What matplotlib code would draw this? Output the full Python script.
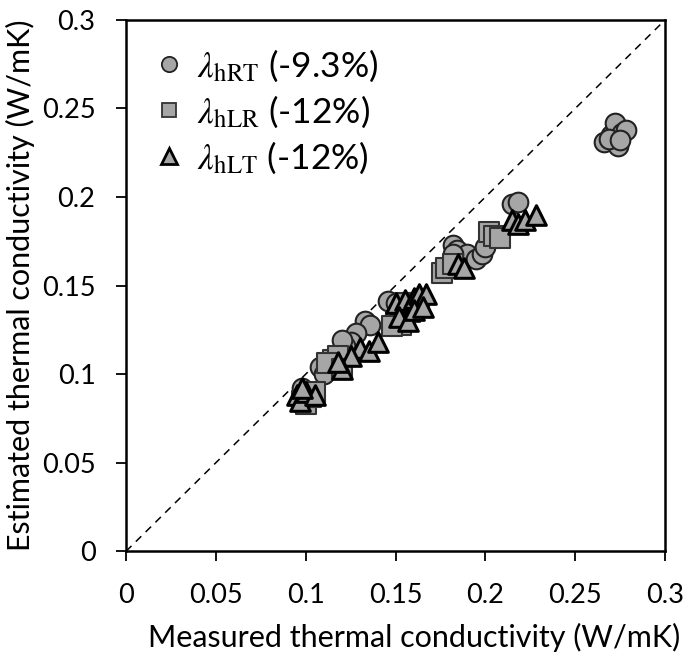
import matplotlib
matplotlib.use("Agg")
import matplotlib.pyplot as plt
from matplotlib.lines import Line2D

plt.rcParams['font.family'] = ['Lato', 'DejaVu Sans']
plt.rcParams['mathtext.fontset'] = 'stix'

# hRT (circles)
rt_x = [0.266, 0.270, 0.272, 0.274, 0.276, 0.278, 0.269, 0.275,
        0.215, 0.218,
        0.182, 0.184, 0.186, 0.190, 0.195, 0.198, 0.200, 0.182,
        0.146, 0.150,
        0.133, 0.136, 0.128, 0.125, 0.122, 0.120,
        0.108, 0.110, 0.098]
rt_y = [0.231, 0.235, 0.242, 0.229, 0.236, 0.238, 0.233, 0.232,
        0.196, 0.197,
        0.173, 0.170, 0.166, 0.168, 0.165, 0.168, 0.172, 0.168,
        0.141, 0.140,
        0.130, 0.128, 0.123, 0.118, 0.116, 0.119,
        0.104, 0.100, 0.092]
# hLR (squares)
lr_x = [0.202, 0.205, 0.208,
        0.176, 0.178, 0.182,
        0.155, 0.158, 0.160, 0.163, 0.150, 0.153, 0.148,
        0.115, 0.118, 0.112, 0.120,
        0.098, 0.100, 0.103, 0.105]
lr_y = [0.180, 0.178, 0.177,
        0.157, 0.160, 0.162,
        0.140, 0.135, 0.138, 0.140, 0.130, 0.128, 0.127,
        0.108, 0.110, 0.106, 0.103,
        0.085, 0.083, 0.087, 0.090]
# hLT (triangles)
lt_x = [0.215, 0.218, 0.222, 0.228,
        0.185, 0.188,
        0.150, 0.155, 0.160, 0.163, 0.167, 0.152, 0.157, 0.160, 0.165,
        0.130, 0.135, 0.140, 0.125, 0.120, 0.118,
        0.095, 0.097, 0.100, 0.105, 0.098]
lt_y = [0.187, 0.185, 0.187, 0.190,
        0.162, 0.160,
        0.140, 0.142, 0.143, 0.145, 0.145, 0.132, 0.130, 0.136, 0.138,
        0.115, 0.113, 0.118, 0.110, 0.103, 0.107,
        0.088, 0.085, 0.090, 0.088, 0.092]

labels = [r'$\lambda_{\mathrm{hRT}}$ (-9.3%)', r'$\lambda_{\mathrm{hLR}}$ (-12%)', r'$\lambda_{\mathrm{hLT}}$ (-12%)']
ticks = [0, 0.05, 0.1, 0.15, 0.2, 0.25, 0.3]
tick_labels = ['0', '0.05', '0.1', '0.15', '0.2', '0.25', '0.3']

fill = '#a6a6a6'
fig = plt.figure(figsize=(6.85, 6.61), dpi=100)
ax = fig.add_axes([0.184, 0.166, 0.787, 0.804])

ax.plot([0, 0.3], [0, 0.3], ls=(0, (5, 4)), color='black', lw=1.1, zorder=1)
ax.scatter(rt_x, rt_y, s=200, marker='o', facecolor=fill, edgecolor='#222222', linewidths=1.5, zorder=2)
ax.scatter(lr_x, lr_y, s=200, marker='s', facecolor=fill, edgecolor='#333333', linewidths=1.5, zorder=3)
ax.scatter(lt_x, lt_y, s=200, marker='^', facecolor=fill, edgecolor='black', linewidths=2.2, zorder=4)

ax.set_xlim(0, 0.3)
ax.set_ylim(0, 0.3)
ax.set_xticks(ticks)
ax.set_xticklabels(tick_labels)
ax.set_yticks(ticks)
ax.set_yticklabels(tick_labels)
ax.tick_params(direction='out', length=7, width=1.3, labelsize=19.5)
ax.tick_params(axis='x', pad=16)
ax.tick_params(axis='y', pad=15)
for s in ax.spines.values():
    s.set_linewidth(1.8)
ax.set_xlabel('Measured thermal conductivity (W/mK)', fontsize=22, labelpad=12)
ax.xaxis.set_label_coords(0.535, -0.135)
ax.set_ylabel('Estimated thermal conductivity (W/mK)', fontsize=22, labelpad=5)

handles = [
    Line2D([], [], ls='none', marker='o', ms=11, mfc=fill, mec='#222222', mew=1.3),
    Line2D([], [], ls='none', marker='s', ms=10, mfc=fill, mec='#333333', mew=1.3),
    Line2D([], [], ls='none', marker='^', ms=11, mfc=fill, mec='black', mew=2),
]
ax.legend(handles, labels, loc='upper left', frameon=False, fontsize=25.5,
          handletextpad=0.3, labelspacing=0.28, borderaxespad=0.3, handlelength=1.0,
          bbox_to_anchor=(0.0, 0.995))

fig.savefig('out.png', dpi=100)
